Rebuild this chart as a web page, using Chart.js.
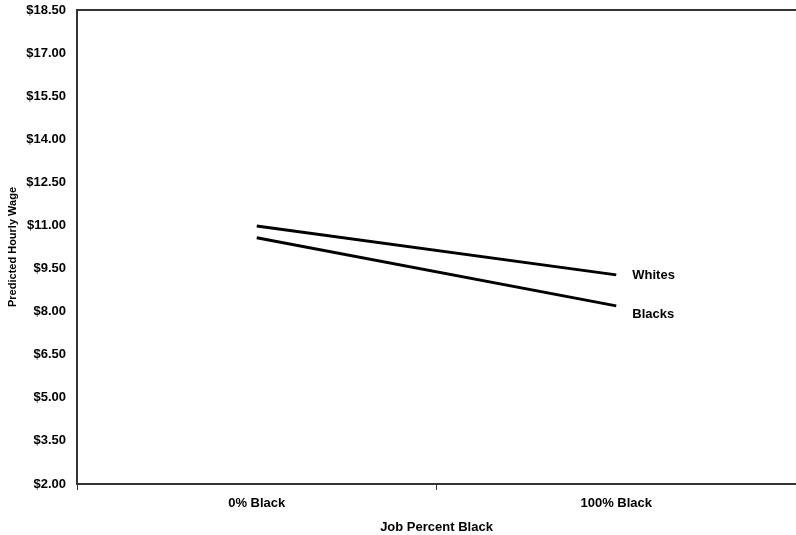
<!DOCTYPE html>
<html>
<head>
<meta charset="utf-8">
<script src="https://cdn.jsdelivr.net/npm/chart.js@4/dist/chart.umd.min.js"></script>
<style>
  html, body { margin: 0; padding: 0; background: #fff; }
  canvas { display: block; }
</style>
</head>
<body>
<canvas id="chart" width="796" height="535"></canvas>
<script>
const categories = ["0% Black", "100% Black"];
const whites = [10.98, 9.28];
const blacks = [10.57, 8.20];
const yMin = 2.0;
const yMax = 18.5;
const yStep = 1.5;

const fontFamily = "'Liberation Sans', Arial, sans-serif";

// labels at the end of each line
const endLabels = {
  id: "endLabels",
  afterDatasetsDraw(chart) {
    const ctx = chart.ctx;
    ctx.save();
    ctx.font = "bold 13px " + fontFamily;
    ctx.fillStyle = "#000";
    ctx.textBaseline = "middle";
    chart.data.datasets.forEach((ds, i) => {
      const pts = chart.getDatasetMeta(i).data;
      const last = pts[pts.length - 1];
      ctx.fillText(ds.label, last.x + 16, last.y + ds.labelShift);
    });
    ctx.restore();
  }
};

new Chart(document.getElementById("chart"), {
  type: "line",
  data: {
    labels: categories,
    datasets: [
      { label: "Whites", data: whites, borderColor: "#000", borderWidth: 3, pointRadius: 0, fill: false, labelShift: 1 },
      { label: "Blacks", data: blacks, borderColor: "#000", borderWidth: 3, pointRadius: 0, fill: false, labelShift: 9 }
    ]
  },
  options: {
    responsive: false,
    animation: false,
    devicePixelRatio: 1,
    layout: { padding: { top: 10, right: 0, left: 0, bottom: 0 } },
    plugins: { legend: { display: false }, tooltip: { enabled: false } },
    scales: {
      x: {
        offset: true,
        grid: { offset: true, drawOnChartArea: false, drawTicks: true, tickLength: 6, color: "#333", lineWidth: 1 },
        border: { display: true, color: "#333", width: 2 },
        ticks: { color: "#000", font: { family: fontFamily, size: 13, weight: "bold" }, padding: 6, maxRotation: 0 },
        title: { display: true, text: "Job Percent Black", color: "#000", font: { family: fontFamily, size: 13, weight: "bold" }, padding: { top: 6, bottom: 0 } },
        afterFit(scale) { scale.height = 51; }
      },
      xTop: {
        position: "top",
        grid: { display: false, drawTicks: false },
        border: { display: true, color: "#333", width: 2 },
        ticks: { display: false },
        afterFit(scale) { scale.height = 0; }
      },
      y: {
        min: yMin,
        max: yMax,
        grid: { display: false, drawTicks: false },
        border: { display: true, color: "#333", width: 2 },
        ticks: {
          stepSize: yStep,
          color: "#000",
          padding: 11,
          font: { family: fontFamily, size: 13, weight: "bold" },
          callback: (v) => "$" + Number(v).toFixed(2)
        },
        title: { display: true, text: "Predicted Hourly Wage", color: "#000", font: { family: fontFamily, size: 11, weight: "bold" }, padding: { top: 6, bottom: 0 } },
        afterFit(scale) {
          scale.width = 77;
          scale.paddingTop = 0;
          scale.paddingBottom = 0;
        }
      }
    }
  },
  plugins: [endLabels]
});
</script>
</body>
</html>
